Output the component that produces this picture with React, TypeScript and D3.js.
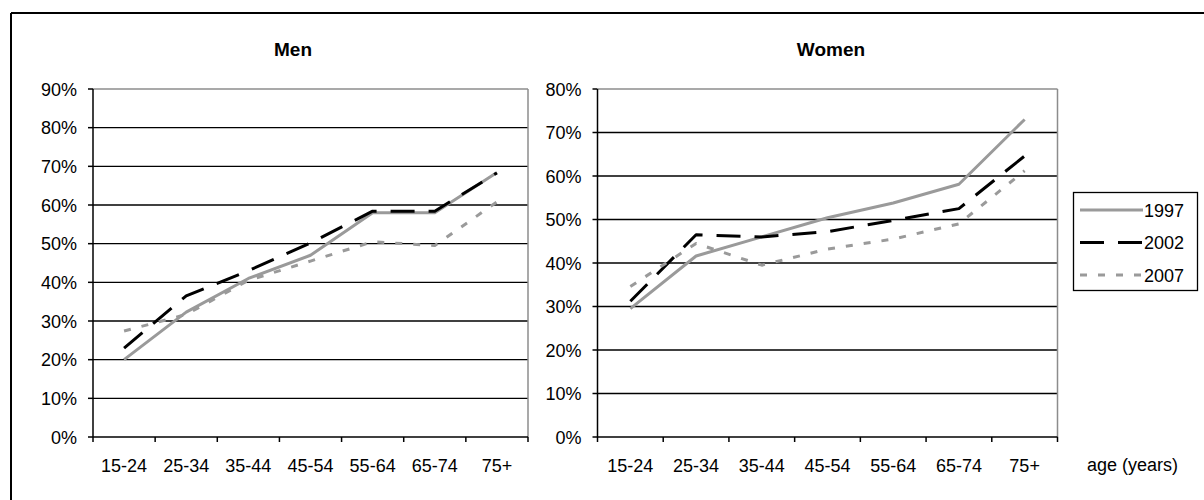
import React from "react";
import * as d3 from "d3";

const categories = ["15-24", "25-34", "35-44", "45-54", "55-64", "65-74", "75+"];
const years = ["1997", "2002", "2007"];

const men1997 = [20, 32.3, 41, 47, 58, 58, 68.4];
const men2002 = [23, 36.5, 43, 50.2, 58.4, 58.4, 68.3];
const men2007 = [27.4, 31.7, 40.5, 45.5, 50.5, 49.5, 60.8];

const women1997 = [29.5, 41.6, 46, 50.4, 53.8, 58.1, 73];
const women2002 = [31.2, 46.5, 46, 47.2, 49.8, 52.5, 64.6];
const women2007 = [34.6, 44.5, 39.5, 43.2, 45.5, 49, 61.2];

const menTicks = [0, 10, 20, 30, 40, 50, 60, 70, 80, 90];
const womenTicks = [0, 10, 20, 30, 40, 50, 60, 70, 80];

const styles = [
  { color: "#9a9a9a", dash: "none" },
  { color: "#000000", dash: "24,14" },
  { color: "#9a9a9a", dash: "7,11" },
];

const FONT = "'Liberation Sans', Arial, sans-serif";

function Panel({ title, series, ticks, x0, x1, y0, y1, titleX }) {
  const x = d3.scaleBand().domain(categories).range([x0, x1]).padding(0);
  const maxV = ticks[ticks.length - 1];
  const y = d3.scaleLinear().domain([0, maxV]).range([y1, y0]);
  const line = d3
    .line()
    .x((d, i) => (x(categories[i]) as number) + x.bandwidth() / 2)
    .y((d) => y(d));
  const edges = categories.map((c) => x(c) as number).concat([x1]);
  return (
    <g>
      <text x={titleX} y={56} textAnchor="middle" fontFamily={FONT} fontWeight="bold" fontSize={19}>
        {title}
      </text>
      {ticks.map((t) => (
        <g key={t}>
          {t > 0 && t < maxV && (
            <line x1={x0} x2={x1} y1={y(t)} y2={y(t)} stroke="#000" strokeWidth={1.3} />
          )}
          <line x1={x0 - 5} x2={x0} y1={y(t)} y2={y(t)} stroke="#000" strokeWidth={1.5} />
          <text x={x0 - 16} y={y(t) + 6.5} textAnchor="end" fontFamily={FONT} fontSize={18} fill="#000">
            {t + "%"}
          </text>
        </g>
      ))}
      {/* top and right border (gray) */}
      <line x1={x0} x2={x1} y1={y0} y2={y0} stroke="#8c8c8c" strokeWidth={1.5} />
      <line x1={x1} x2={x1} y1={y0} y2={y1} stroke="#8c8c8c" strokeWidth={1.5} />
      {/* axes */}
      <line x1={x0} x2={x0} y1={y0} y2={y1} stroke="#000" strokeWidth={1.5} />
      <line x1={x0} x2={x1} y1={y1} y2={y1} stroke="#000" strokeWidth={1.5} />
      {edges.map((e, i) => (
        <line key={i} x1={e} x2={e} y1={y1} y2={y1 + 5} stroke="#000" strokeWidth={1.5} />
      ))}
      {categories.map((c) => (
        <text
          key={c}
          x={(x(c) as number) + x.bandwidth() / 2}
          y={472}
          textAnchor="middle"
          fontFamily={FONT}
          fontSize={18}
          fill="#000"
        >
          {c}
        </text>
      ))}
      {series.map((s, i) => (
        <path
          key={i}
          d={line(s) as string}
          fill="none"
          stroke={styles[i].color}
          strokeWidth={3}
          strokeDasharray={styles[i].dash}
          strokeLinejoin="round"
        />
      ))}
    </g>
  );
}

export default function App() {
  return (
    <svg
      width={1204}
      height={500}
      style={{ position: "absolute", left: 0, top: 0, background: "#fff" }}
    >
      <rect x={0} y={0} width={1204} height={500} fill="#fff" />
      {/* outer chart border (cropped on right and bottom) */}
      <line x1={11} x2={1210} y1={13} y2={13} stroke="#000" strokeWidth={2} />
      <line x1={11} x2={11} y1={13} y2={510} stroke="#000" strokeWidth={2} />
      <Panel
        title="Men"
        series={[men1997, men2002, men2007]}
        ticks={menTicks}
        x0={93}
        x1={528}
        y0={89}
        y1={437}
        titleX={293}
      />
      <Panel
        title="Women"
        series={[women1997, women2002, women2007]}
        ticks={womenTicks}
        x0={597.5}
        x1={1057.5}
        y0={89}
        y1={437}
        titleX={831}
      />
      {/* legend */}
      <rect x={1073.5} y={192.5} width={124} height={98} fill="#fff" stroke="#000" strokeWidth={1.3} />
      {years.map((yr, i) => {
        const yy = 210 + i * 32.5;
        return (
          <g key={yr}>
            <line
              x1={1080}
              x2={1143}
              y1={yy}
              y2={yy}
              stroke={styles[i].color}
              strokeWidth={3}
              strokeDasharray={styles[i].dash}
            />
            <text x={1144} y={yy + 6.5} fontFamily={FONT} fontSize={18} fill="#000">
              {yr}
            </text>
          </g>
        );
      })}
      <text x={1087} y={471} fontFamily={FONT} fontSize={18} fill="#000">
        age (years)
      </text>
    </svg>
  );
}
